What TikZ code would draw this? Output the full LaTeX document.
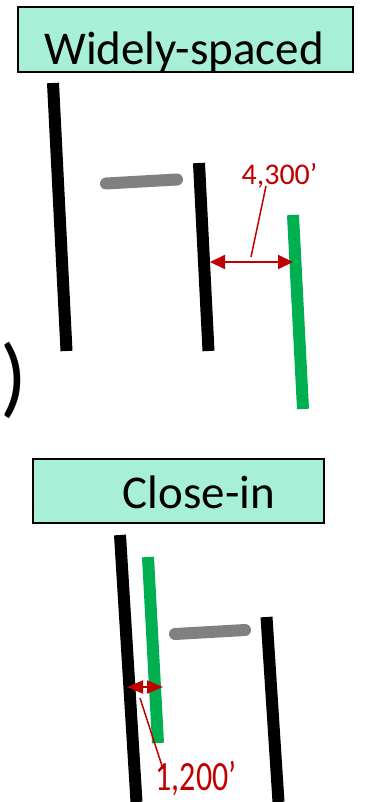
\documentclass[tikz,border=0pt]{standalone}
\usepackage{fontspec}
\setmainfont{Carlito}
\usetikzlibrary{arrows.meta}
\definecolor{mint}{HTML}{A7F0D7}
\definecolor{bargreen}{HTML}{00B050}
\definecolor{bargray}{HTML}{808080}
\definecolor{dimred}{HTML}{C00000}
\begin{document}
\begin{tikzpicture}[x=1pt,y=-1pt,
  titlebox/.style={draw=black,line width=1.5pt,fill=mint,inner sep=0pt},
  titletext/.style={anchor=base,inner sep=0pt,font=\fontsize{47}{50}\selectfont},
  blackbar/.style={line width=12pt,draw=black},
  greenbar/.style={line width=12pt,draw=bargreen},
  graybar/.style={line width=12pt,draw=bargray,line cap=round},
  dimarrow/.style={draw=dimred,line width=2pt,{Triangle[length=15pt,width=14pt]}-{Triangle[length=15pt,width=14pt]}},
  leader/.style={draw=dimred,line width=1.5pt},
  dimtext/.style={anchor=base,inner sep=0pt,text=dimred,font=\fontsize{30}{32}\selectfont}]
\useasboundingbox (0,0) rectangle (364,802);
\clip (0,0) rectangle (364,802);

% ---------- Widely-spaced ----------
\path[titlebox] (18,7) rectangle (353,72);
\node[titletext] (t1) at (184,65) {Widely-spaced};

\coordinate (b1t) at (53,83);   \coordinate (b1b) at (66.5,351);
\coordinate (b2t) at (199,163); \coordinate (b2b) at (208.5,351);
\coordinate (g1t) at (293,215); \coordinate (g1b) at (303,409);
\coordinate (r1l) at (106,183.5); \coordinate (r1r) at (177,179.5);
\draw[blackbar] (b1t) -- (b1b);
\draw[blackbar] (b2t) -- (b2b);
\draw[greenbar] (g1t) -- (g1b);
\draw[graybar] (r1l) -- (r1r);

\coordinate (a1l) at (210,262); \coordinate (a1r) at (293,262);
\draw[dimarrow] (a1l) -- (a1r);
\node[dimtext] (d1) at (279.5,185) {4,300’};
\coordinate (l1a) at (251,257); \coordinate (l1b) at (266,186);
\draw[leader] (l1a) -- (l1b);

\node[inner sep=0pt,font=\fontsize{88}{90}\selectfont] (par) at (14,380) {)};

% ---------- Close-in ----------
\path[titlebox] (33,459) rectangle (324,523);
\node[titletext] (t2) at (199,508) {Close-in};

\coordinate (b3t) at (120,535);   \coordinate (b3b) at (136.5,802);
\coordinate (b4t) at (266.5,617); \coordinate (b4b) at (278.5,802);
\coordinate (g2t) at (148,557);   \coordinate (g2b) at (158,743);
\coordinate (r2l) at (175,634);   \coordinate (r2r) at (245,630);
\draw[blackbar] (b3t) -- (b3b);
\draw[blackbar] (b4t) -- (b4b);
\draw[greenbar] (g2t) -- (g2b);
\draw[graybar] (r2l) -- (r2r);

\coordinate (a2l) at (127,687); \coordinate (a2r) at (163,687);
\draw[draw=dimred,line width=2pt,{Triangle[length=16pt,width=13pt]}-{Triangle[length=16pt,width=13pt]}] (a2l) -- (a2r);
\coordinate (l2a) at (140,698); \coordinate (l2b) at (163,769);
\draw[leader] (l2a) -- (l2b);
\node[dimtext,font=\fontsize{32}{34}\selectfont] (d2) at (196,790) {\scalebox{1}[1.3]{1,200’}};
\end{tikzpicture}
\end{document}
